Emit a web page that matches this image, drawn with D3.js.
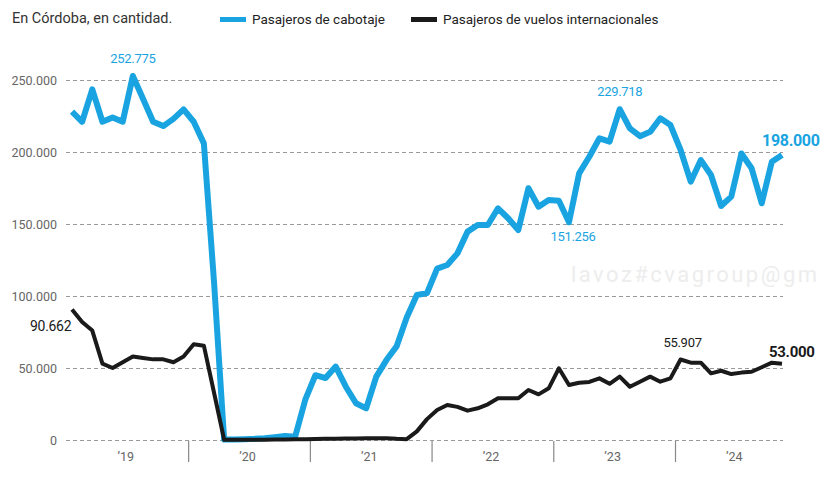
<!DOCTYPE html>
<html>
<head>
<meta charset="utf-8">
<script src="https://cdn.jsdelivr.net/npm/d3@7"></script>
<style>
  body { margin: 0; background: #fff; }
  svg text { font-family: Roboto, "Noto Sans", sans-serif; }
</style>
</head>
<body>
<div id="chart_div"></div>
<script>
// monthly values, Jan 2019 .. Nov 2024
const month_labels = d3.range(71).map(i => (2019 + Math.floor(i / 12)) + '-' + String(i % 12 + 1).padStart(2, '0'));

const cabotaje_values = [
    228000, 221000, 243500, 221000, 224000, 221000, 252775, 237000, 221000, 218000, 223000, 229600,
    221000, 206000, 110000, 300, 400, 600, 800, 1200, 2000, 2800, 2300, 28000,
    45000, 43000, 51000, 37000, 25500, 22000, 44000, 55500, 65000, 85000, 100700, 102000,
    119000, 121500, 129600, 144700, 149300, 149300, 160900, 154000, 145800, 174800, 162000, 166700,
    166200, 151256, 185200, 196700, 209500, 207200, 229718, 216400, 211000, 214000, 223400, 218700,
    201400, 179400, 194400, 184000, 162500, 169000, 199000, 188700, 164400, 193300, 198000
];

const internacionales_values = [
    90662, 82000, 76000, 53000, 50000, 54000, 58000, 57000, 56000, 56000, 54000, 58000,
    66500, 65500, 33000, 200, 150, 150, 200, 250, 300, 400, 500, 600,
    700, 800, 900, 1000, 1100, 1200, 1300, 1200, 800, 600, 6000, 14500,
    20800, 24300, 23000, 20400, 22000, 24800, 29000, 29000, 29000, 34700, 31700, 35900,
    49800, 38200, 39800, 40300, 42800, 39000, 44000, 37000, 40500, 44000, 40500, 42800,
    55907, 53700, 53700, 46300, 48100, 45800, 46800, 47400, 50500, 53700, 53000
];

const y_ticks = [0, 50000, 100000, 150000, 200000, 250000];
const year_labels = ['’19', '’20', '’21', '’22', '’23', '’24'];

// value callouts: [series, month index, text]
const callouts = [
    ['cab', 6, '252.775'],
    ['cab', 49, '151.256'],
    ['cab', 54, '229.718'],
    ['cab', 70, '198.000'],
    ['int', 0, '90.662'],
    ['int', 60, '55.907'],
    ['int', 70, '53.000']
];

const blue_color = '#19a4e1';
const black_color = '#1a1a1a';

function draw_chart () {
    const width = 822, height = 477;

    const svg = d3.select('#chart_div').append('svg')
        .attr('width', width)
        .attr('height', height);

    const x = d3.scaleLinear().domain([0, 70]).range([72, 782]);
    const y = d3.scaleLinear().domain([0, 250000]).range([440, 80]);

    // header
    svg.append('text')
        .attr('x', 12).attr('y', 23)
        .style('font-size', '14.5px')
        .style('fill', '#333')
        .text('En Córdoba, en cantidad.');

    const legend_items = [
        {x: 220, color: blue_color, label: 'Pasajeros de cabotaje'},
        {x: 411, color: black_color, label: 'Pasajeros de vuelos internacionales'}
    ];
    legend_items.forEach(function (item) {
        svg.append('rect')
            .attr('x', item.x).attr('y', 17)
            .attr('width', 26).attr('height', 5)
            .style('fill', item.color);
        svg.append('text')
            .attr('x', item.x + 32).attr('y', 24)
            .style('font-size', '13.5px')
            .style('fill', '#222')
            .text(item.label);
    });

    // watermark (the visible part of it)
    svg.append('text')
        .attr('x', 571).attr('y', 282)
        .attr('textLength', 246)
        .style('font-size', '22px')
        .style('fill', '#ededed')
        .text('lavoz#cvagroup@gm');

    // grid + y labels
    const y_axis = svg.append('g')
        .attr('transform', 'translate(66,0)')
        .call(d3.axisLeft(y)
            .tickValues(y_ticks)
            .tickSize(-717)
            .tickPadding(9)
            .tickFormat(d => d3.format(',')(d).replace(/,/g, '.')));
    y_axis.select('.domain').remove();
    y_axis.selectAll('.tick line')
        .style('stroke', '#9a9a9a')
        .style('stroke-dasharray', '4,3');
    y_axis.selectAll('.tick text')
        .style('font-size', '12.5px')
        .style('fill', '#666')
        .style('font-family', 'Roboto, sans-serif');

    // year dividers and labels
    d3.range(1, 6).forEach(function (k) {
        svg.append('line')
            .attr('x1', x(12 * k - 0.5)).attr('x2', x(12 * k - 0.5))
            .attr('y1', 441).attr('y2', 462)
            .style('stroke', '#888')
            .style('stroke-width', 1.2);
    });
    year_labels.forEach(function (lbl, k) {
        svg.append('text')
            .attr('x', x(12 * k + 5.5) - 2).attr('y', 461)
            .style('text-anchor', 'middle')
            .style('font-size', '12.5px')
            .style('fill', '#666')
            .text(lbl);
    });

    const line_gen = d3.line()
        .x((d, i) => x(i))
        .y(d => y(d));

    svg.append('path')
        .datum(cabotaje_values)
        .attr('d', line_gen)
        .style('fill', 'none')
        .style('stroke', blue_color)
        .style('stroke-width', 6)
        .style('stroke-linejoin', 'round');

    svg.append('path')
        .datum(internacionales_values)
        .attr('d', line_gen)
        .style('fill', 'none')
        .style('stroke', black_color)
        .style('stroke-width', 4)
        .style('stroke-linejoin', 'round');

    // callouts, offsets picked by eye
    const callout_style = {
        '252.775': {dx: 0, dy: -13, anchor: 'middle', size: 13, weight: 400},
        '151.256': {dx: 4, dy: 19, anchor: 'middle', size: 13, weight: 400},
        '229.718': {dx: 0, dy: -13, anchor: 'middle', size: 13, weight: 400},
        '198.000': {dx: -20, dy: -9, anchor: 'start', size: 16, weight: 700},
        '90.662':  {dx: -42, dy: 22, anchor: 'start', size: 14, weight: 400},
        '55.907':  {dx: 2, dy: -12, anchor: 'middle', size: 13, weight: 400},
        '53.000':  {dx: -13, dy: -7, anchor: 'start', size: 15, weight: 700}
    };
    callouts.forEach(function (c) {
        const vals = c[0] === 'cab' ? cabotaje_values : internacionales_values;
        const st = callout_style[c[2]];
        svg.append('text')
            .attr('x', x(c[1]) + st.dx)
            .attr('y', y(vals[c[1]]) + st.dy)
            .style('text-anchor', st.anchor)
            .style('font-size', st.size + 'px')
            .style('font-weight', st.weight)
            .style('letter-spacing', '-0.3px')
            .style('fill', c[0] === 'cab' ? blue_color : black_color)
            .text(c[2]);
    });
}

draw_chart();
</script>
</body>
</html>
